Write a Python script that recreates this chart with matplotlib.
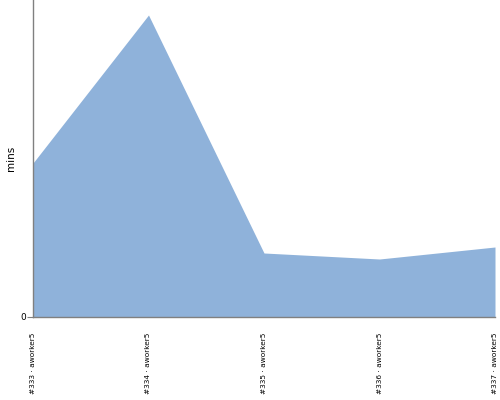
import matplotlib
matplotlib.use('Agg')
import matplotlib.pyplot as plt

# Datos del gráfico
builds = ['#333 · aworker5', '#334 · aworker5', '#335 · aworker5',
          '#336 · aworker5', '#337 · aworker5']
mins = [154, 302, 64, 58, 70]

fig = plt.figure(figsize=(5, 4), dpi=100)
ax = fig.add_axes([0.066, 0.2075, 0.924, 0.7925])

x = list(range(len(builds)))
ax.fill_between(x, mins, 0, color='#8fb2da', linewidth=0)

ax.set_xlim(0, len(builds) - 1)
ax.set_ylim(0, 317)
ax.set_xticks(x)
ax.set_xticklabels(builds, rotation=90, fontsize=5.3, family='DejaVu Sans')
ax.set_yticks([0])
ax.set_yticklabels(['0'], fontsize=6.5)
ax.set_ylabel('mins', fontsize=7.5)
ax.yaxis.set_label_coords(-0.036, 0.5)

for lado in ['top', 'right']:
    ax.spines[lado].set_visible(False)
for lado in ['left', 'bottom']:
    ax.spines[lado].set_color('#808080')
    ax.spines[lado].set_linewidth(1)
ax.tick_params(axis='y', colors='#808080', length=4, width=0.8, labelcolor='black', pad=1)
ax.tick_params(axis='x', length=0, pad=11)

fig.savefig('out.png', dpi=100)
